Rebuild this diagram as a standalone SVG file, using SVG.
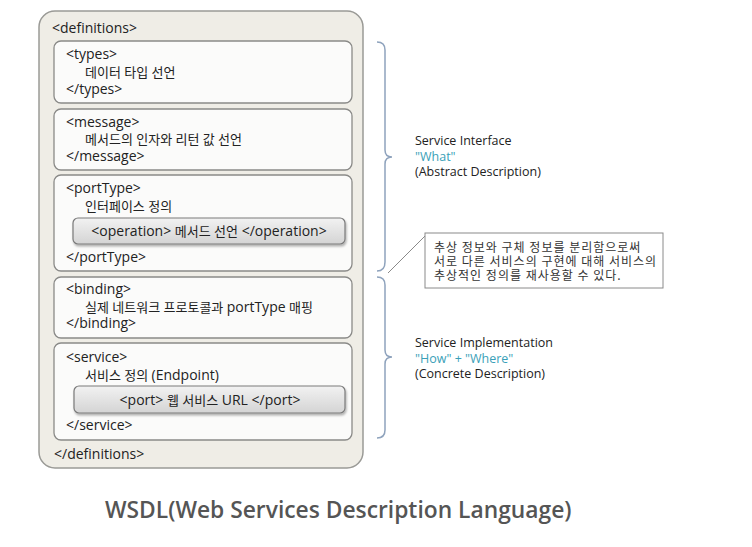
<svg xmlns="http://www.w3.org/2000/svg" width="752" height="547" viewBox="0 0 752 547">
<defs>
<linearGradient id="gbtn" x1="0" y1="0" x2="0" y2="1">
<stop offset="0" stop-color="#f2f2f2"/>
<stop offset="1" stop-color="#d4d4d4"/>
</linearGradient>
<filter id="sh" x="-5%" y="-20%" width="110%" height="160%">
<feDropShadow dx="1" dy="2" stdDeviation="1.2" flood-color="#000" flood-opacity="0.3"/>
</filter>
</defs>
<style>
text{font-family:"Open Sans","Noto Sans CJK KR",sans-serif;fill:#222;font-size:12.5px}
.l{font-size:14px}
.k{font-size:13px}
.outer{fill:#efede6;stroke:#9a9a96;stroke-width:1.5}
.inner{fill:#fbfbfa;stroke:#8a8a88;stroke-width:1.3}
.btn{fill:url(#gbtn);stroke:#7a7a7a;stroke-width:1.2;filter:url(#sh)}
.br{fill:none;stroke:#8fa3bd;stroke-width:1.5}
.blue{fill:#3a9fb8}
.ko{font-family:"Noto Sans CJK KR",sans-serif;font-size:12px;letter-spacing:1px;fill:#333}
.title{font-size:22.8px;font-weight:600;fill:#555}
</style>
<rect width="752" height="547" fill="#ffffff"/>
<g id="definitions">
<rect class="outer" x="39" y="11" width="324" height="457" rx="16"/>
<text class="l" x="52" y="33">&lt;definitions&gt;</text>
<text class="l" x="54" y="459">&lt;/definitions&gt;</text>
</g>
<g id="types">
<rect class="inner" x="54" y="41" width="298" height="62" rx="7"/>
<text class="l" x="66" y="59">&lt;types&gt;</text>
<text class="k" x="85" y="77">데이터 타입 선언</text>
<text class="l" x="66" y="94">&lt;/types&gt;</text>
</g>
<g id="message">
<rect class="inner" x="54" y="109" width="298" height="61" rx="7"/>
<text class="l" x="66" y="127">&lt;message&gt;</text>
<text class="k" x="85" y="144">메서드의 인자와 리턴 값 선언</text>
<text class="l" x="66" y="161">&lt;/message&gt;</text>
</g>
<g id="portType">
<rect class="inner" x="54" y="175" width="298" height="96" rx="7"/>
<text class="l" x="66" y="193">&lt;portType&gt;</text>
<text class="k" x="85" y="211">인터페이스 정의</text>
<text class="l" x="66" y="262">&lt;/portType&gt;</text>
</g>
<g id="operation">
<rect class="btn" x="73" y="218" width="272" height="26" rx="5"/>
<text class="l" x="209" y="236" text-anchor="middle">&lt;operation&gt; <tspan class="k">메서드 선언</tspan> &lt;/operation&gt;</text>
</g>
<g id="binding">
<rect class="inner" x="54" y="277" width="298" height="61" rx="7"/>
<text class="l" x="66" y="294">&lt;binding&gt;</text>
<text class="k" x="85" y="312">실제 네트워크 프로토콜과 <tspan class="l">portType</tspan> 매핑</text>
<text class="l" x="66" y="328">&lt;/binding&gt;</text>
</g>
<g id="service">
<rect class="inner" x="54" y="343" width="298" height="97" rx="7"/>
<text class="l" x="66" y="362">&lt;service&gt;</text>
<text class="k" x="85" y="380">서비스 정의 <tspan class="l">(Endpoint)</tspan></text>
<text class="l" x="66" y="430">&lt;/service&gt;</text>
</g>
<g id="port">
<rect class="btn" x="74" y="386" width="271" height="27" rx="5"/>
<text class="l" x="210" y="405" text-anchor="middle">&lt;port&gt; <tspan class="k">웹 서비스</tspan> URL &lt;/port&gt;</text>
</g>
<g id="connectors">
<path class="br" d="M377,42 Q385,42 385,50 L385,150 Q385,157 392,157 Q385,157 385,164 L385,262 Q385,271 377,271"/>
<path class="br" d="M377,277 Q385,277 385,285 L385,350 Q385,357 392,357 Q385,357 385,364 L385,430 Q385,438 377,438"/>
<line x1="425" y1="236" x2="388" y2="273" stroke="#8a8a8a" stroke-width="1"/>
</g>
<g id="interface-label">
<text x="415" y="145">Service Interface</text>
<text x="415" y="161" class="blue">"What"</text>
<text x="415" y="176">(Abstract Description)</text>
</g>
<g id="note">
<rect x="425" y="233" width="238" height="55" fill="#ffffff" stroke="#8a8a8a" stroke-width="1"/>
<text class="ko" x="434" y="252">추상 정보와 구체 정보를 분리함으로써</text>
<text class="ko" x="434" y="266">서로 다른 서비스의 구현에 대해 서비스의</text>
<text class="ko" x="434" y="280">추상적인 정의를 재사용할 수 있다.</text>
</g>
<g id="implementation-label">
<text x="415" y="347">Service Implementation</text>
<text x="415" y="363" class="blue">"How" + "Where"</text>
<text x="415" y="378">(Concrete Description)</text>
</g>
<text class="title" x="105" y="518">WSDL(Web Services Description Language)</text>
</svg>
